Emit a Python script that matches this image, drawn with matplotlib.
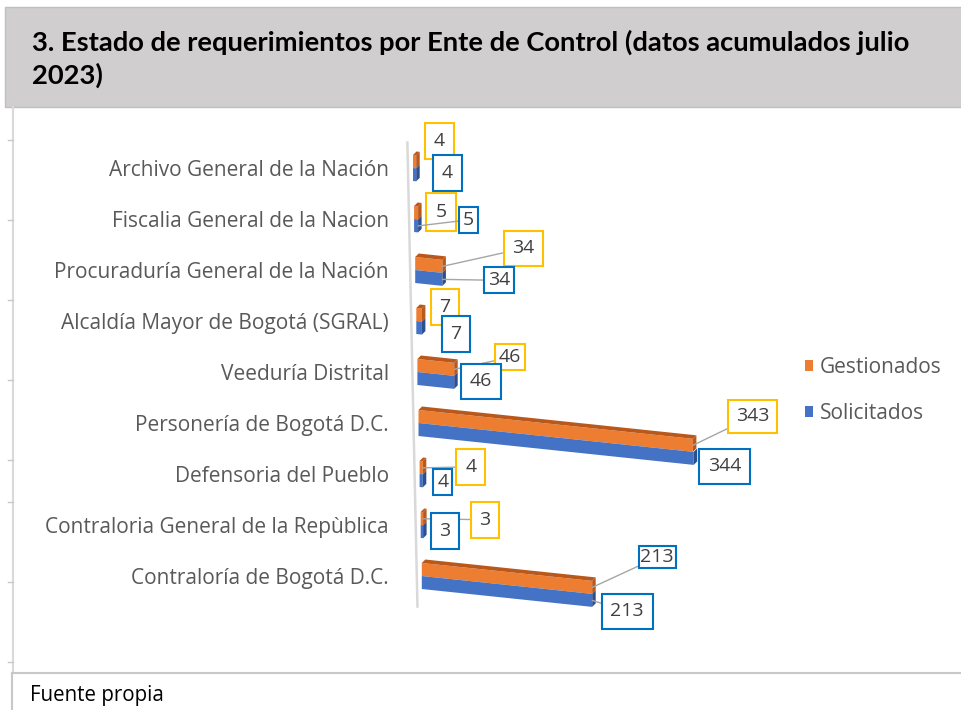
import matplotlib
matplotlib.use("Agg")
import matplotlib.pyplot as plt
from matplotlib.patches import Polygon, Rectangle, Patch

plt.rcParams['font.family'] = ['Open Sans', 'DejaVu Sans']

# datos
titulo = ["3. Estado de requerimientos por Ente de Control (datos acumulados julio", "2023)"]
entes = ["Archivo General de la Nación", "Fiscalia General de la Nacion",
         "Procuraduría General de la Nación", "Alcaldía Mayor de Bogotá (SGRAL)",
         "Veeduría Distrital", "Personería de Bogotá D.C.", "Defensoria del Pueblo",
         "Contraloria General de la Repùblica", "Contraloría de Bogotá D.C."]
gestionados = [4, 5, 34, 7, 46, 343, 4, 3, 213]
solicitados = [4, 5, 34, 7, 46, 344, 4, 3, 213]
series = ["Gestionados", "Solicitados"]
fuente = "Fuente propia"

# estilos
NARANJA, NARANJA_OSC = "#ED7D31", "#B9581A"
AZUL, AZUL_OSC = "#4472C4", "#2C4F8F"
BORDE_G, BORDE_S = "#FFC000", "#0070C0"
GRIS_TXT = "#595959"

PX = 0.8            # px por unidad en x
CAT = 51.0          # px por categoria
SLOPE = 0.084 / CAT  # caida de la barra (cat por unidad)
H = 13.0 / CAT      # alto de cada serie
TOP = 3.5 / CAT     # cara superior
DEP = 3.5 / PX      # profundidad en x

# desplazamiento de las etiquetas (px, hacia abajo positivo) y si llevan guia
off_g = [(23, -21), (23, -1), (81, -18), (23, -8), (56, -12), (60, -29), (48, -1), (62, 1), (65, -30)]
off_s = [(31, -2), (50, -6), (57, 1), (34, 6), (27, -1), (31, 8), (20, 1), (22, -1), (35, 11)]
pad_g = [0.45, 0.5, 0.45, 0.45, 0.2, 0.4, 0.45, 0.45, 0.1]
pad_s = [0.45, 0.2, 0.2, 0.45, 0.45, 0.45, 0.2, 0.45, 0.45]
guia_g = [False, False, True, False, True, True, True, True, True]
guia_s = [False, True, True, False, False, False, False, False, True]
borde_g = [BORDE_G] * 8 + [BORDE_S]

fig = plt.figure(figsize=(9.62, 7.10), dpi=100)

# fondo / marco en pixeles
bg = fig.add_axes([0, 0, 1, 1], zorder=0)
bg.set_xlim(0, 962)
bg.set_ylim(710, 0)
bg.axis('off')
bg.add_patch(Rectangle((5, 7), 957, 100, fc="#D0CECE", ec="#BFBFBF", lw=1))
bg.plot([13, 13], [107, 673], color="#D9D9D9", lw=1.5)
for yt in [140, 220, 300, 380, 460, 502, 582, 662]:
    bg.plot([8, 13], [yt, yt], color="#C8C8C8", lw=1)
bg.plot([12, 962], [673, 673], color="#C8C8C8", lw=1.5)
bg.plot([12, 12], [673, 710], color="#C8C8C8", lw=1.5)
bg.text(32, 42, titulo[0], fontsize=19.7, fontweight='bold', va='center', color='black',
        family=['Lato', 'DejaVu Sans'])
bg.text(32, 75, titulo[1], fontsize=19.7, fontweight='bold', va='center', color='black',
        family=['Lato', 'DejaVu Sans'])
bg.text(30, 695, fuente, fontsize=14.8, va='center', color='black')

# area del grafico
top_i = (130 - 168) / CAT
bot_i = (640 - 168) / CAT
ax = fig.add_axes([418 / 962, 1 - 640 / 710, 344 / 962, 510 / 710], zorder=1)
ax.set_xlim(0, 344 / PX)
ax.set_ylim(bot_i, top_i)
ax.patch.set_alpha(0)
for s in ax.spines.values():
    s.set_visible(False)
ax.set_xticks([])
ax.set_yticks(range(len(entes)))
ax.set_yticklabels(entes, fontsize=15, color=GRIS_TXT)
ax.tick_params(axis='y', length=0, pad=21)

n = len(entes)
x0 = [(-5 + 1.1 * i) / PX for i in range(n)]

# eje vertical inclinado
ax.plot([(-10 - 0.6) / PX, (-10 + 1.1 * 8.6) / PX], [-0.5, 8.6], color="#D9D9D9", lw=1.8,
        zorder=1, clip_on=False)


def cara(pts, color):
    ax.add_patch(Polygon(pts, closed=True, fc=color, ec='none', zorder=2, clip_on=False))


for i in range(n):
    for v, off_top, off_bot, col, col_osc in [
            (gestionados[i], -H, 0, NARANJA, NARANJA_OSC),
            (solicitados[i], 0, H, AZUL, AZUL_OSC)]:
        xa, xb = x0[i], x0[i] + v
        ya = i
        yb = i + SLOPE * v
        cara([(xa, ya + off_top), (xb, yb + off_top), (xb, yb + off_bot), (xa, ya + off_bot)], col)
        cara([(xb, yb + off_top), (xb + DEP, yb + off_top - TOP),
              (xb + DEP, yb + off_bot - TOP), (xb, yb + off_bot)], col_osc)
    # cara superior
    v = gestionados[i]
    xa, xb = x0[i], x0[i] + v
    ya, yb = i - H, i - H + SLOPE * v
    cara([(xa, ya), (xb, yb), (xb + DEP, yb - TOP), (xa + DEP, ya - TOP)], NARANJA_OSC)

# etiquetas de datos
for i in range(n):
    for v, off, pad, guia, ec, dy in [
            (gestionados[i], off_g[i], pad_g[i], guia_g[i], borde_g[i], -H / 2),
            (solicitados[i], off_s[i], pad_s[i], guia_s[i], BORDE_S, H / 2)]:
        xy = (x0[i] + v, i + SLOPE * v + dy)
        arrow = dict(arrowstyle='-', color="#A6A6A6", lw=1, shrinkA=0, shrinkB=0) if guia else None
        ax.annotate(str(v), xy=xy, xytext=(off[0], -off[1]), textcoords='offset pixels',
                    ha='center', va='center', fontsize=14, color="#404040",
                    bbox=dict(boxstyle=f'square,pad={pad}', fc='white', ec=ec, lw=1.5),
                    arrowprops=arrow, zorder=3, annotation_clip=False)

# leyenda
handles = [Patch(fc=NARANJA, ec='none'), Patch(fc=AZUL, ec='none')]
fig.legend(handles, series, loc='upper left', bbox_to_anchor=(805 / 962, 1 - 357 / 710),
           frameon=False, borderpad=0, borderaxespad=0, handlelength=0.4, handleheight=0.4,
           handletextpad=0.3, labelspacing=1.2, prop={'size': 15}, labelcolor=GRIS_TXT)

fig.savefig("out.png", dpi=100)
